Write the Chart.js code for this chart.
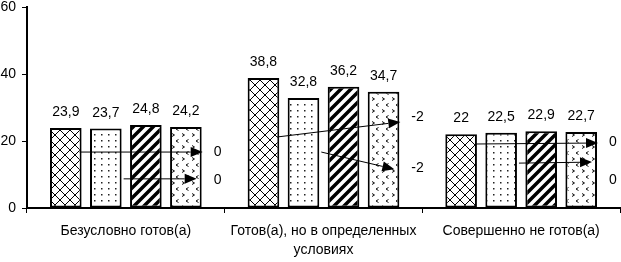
<!DOCTYPE html>
<html>
<head>
<meta charset="utf-8">
<script src="https://cdn.jsdelivr.net/npm/chart.js@4.4.0/dist/chart.umd.min.js"></script>
<style>
  html, body { margin: 0; padding: 0; background: #fff; }
  #chart { display: block; }
</style>
</head>
<body>
<canvas id="chart" width="621" height="262"></canvas>
<script>
// categories and the four series (one bar each per category)
const categories = ['Безусловно готов(а)', ['Готов(а), но в определенных', 'условиях'], 'Совершенно не готов(а)'];
const series1 = [23.9, 38.8, 22];
const series2 = [23.7, 32.8, 22.5];
const series3 = [24.8, 36.2, 22.9];
const series4 = [24.2, 34.7, 22.7];
const yTicks = [0, 20, 40, 60];

// change arrows: upper arrow (from bar 1) and lower arrow (from bar 2), values on the y scale
const upperFrom = [16.7, 21.2, 19.1];
const upperTo = [16.7, 25.7, 19.4];
const upperText = ['0', '-2', '0'];
const upperTextAt = [16.7, 27.2, 19.7];
const lowerFrom = [8.7, 16.7, 13.4];
const lowerTo = [8.7, 11.6, 13.7];
const lowerText = ['0', '-2', '0'];
const lowerTextAt = [8.4, 11.9, 8.4];

const FONT = "'Liberation Sans', Arial, sans-serif";

// fill patterns
const makeTile = (w, h, draw) => {
    const c = document.createElement('canvas');
    c.width = w;
    c.height = h;
    const g = c.getContext('2d');
    g.fillStyle = '#fff';
    g.fillRect(0, 0, w, h);
    draw(g);
    return document.getElementById('chart').getContext('2d').createPattern(c, 'repeat');
};

const crossHatch = makeTile(10, 10, (g) => {
    g.strokeStyle = '#000';
    g.lineWidth = 1;
    g.beginPath();
    g.moveTo(0, 0); g.lineTo(10, 10);
    g.moveTo(0, 10); g.lineTo(10, 0);
    g.stroke();
});

const dots = makeTile(7, 6, (g) => {
    g.fillStyle = '#222';
    g.fillRect(3, 2, 1.5, 1.5);
});

const stripes = makeTile(10, 10, (g) => {
    g.strokeStyle = '#000';
    g.lineWidth = 3.5;
    g.beginPath();
    g.moveTo(-2, 12); g.lineTo(12, -2);
    g.moveTo(-7, 7); g.lineTo(7, -7);
    g.moveTo(3, 17); g.lineTo(17, 3);
    g.stroke();
});

const chevrons = makeTile(10, 12, (g) => {
    g.strokeStyle = '#111';
    g.lineWidth = 1;
    g.beginPath();
    g.moveTo(2, 1.5); g.lineTo(4.5, 3); g.lineTo(2, 4.5);
    g.moveTo(8.5, 7.5); g.lineTo(6, 9); g.lineTo(8.5, 10.5);
    g.stroke();
});

// value labels above bars and the arrows with their numbers
const annotations = {
    id: 'annotations',
    afterDatasetsDraw(chart) {
        const ctx = chart.ctx;
        const y = chart.scales.y;
        ctx.save();
        ctx.font = '14px ' + FONT;
        ctx.fillStyle = '#000';
        ctx.textAlign = 'center';
        ctx.textBaseline = 'alphabetic';
        chart.data.datasets.forEach((ds, i) => {
            chart.getDatasetMeta(i).data.forEach((bar, j) => {
                ctx.fillText(String(ds.data[j]).replace('.', ','), bar.x, bar.y - 12);
            });
        });

        const arrow = (x0, y0, x1, y1) => {
            const a = Math.atan2(y1 - y0, x1 - x0);
            const len = 12, half = 5;
            const bx = x1 - len * Math.cos(a), by = y1 - len * Math.sin(a);
            ctx.strokeStyle = '#000';
            ctx.lineWidth = 1;
            ctx.beginPath();
            ctx.moveTo(x0, y0);
            ctx.lineTo(bx, by);
            ctx.stroke();
            ctx.beginPath();
            ctx.moveTo(x1, y1);
            ctx.lineTo(bx + half * Math.sin(a), by - half * Math.cos(a));
            ctx.lineTo(bx - half * Math.sin(a), by + half * Math.cos(a));
            ctx.closePath();
            ctx.fill();
        };

        const m1 = chart.getDatasetMeta(0).data;
        const m2 = chart.getDatasetMeta(1).data;
        const m4 = chart.getDatasetMeta(3).data;
        ctx.textAlign = 'left';
        ctx.textBaseline = 'middle';
        categories.forEach((c, j) => {
            const right4 = m4[j].x + m4[j].width / 2;
            arrow(m1[j].x + m1[j].width / 2 - 2, y.getPixelForValue(upperFrom[j]),
                  right4 + 1, y.getPixelForValue(upperTo[j]));
            arrow(m2[j].x + m2[j].width / 2 + 2, y.getPixelForValue(lowerFrom[j]),
                  right4 - 5, y.getPixelForValue(lowerTo[j]));
            ctx.fillText(upperText[j], right4 + 12, y.getPixelForValue(upperTextAt[j]));
            ctx.fillText(lowerText[j], right4 + 12, y.getPixelForValue(lowerTextAt[j]));
        });
        ctx.restore();
    }
};

const barStyle = {
    borderColor: '#000',
    borderWidth: 2,
    borderSkipped: false,
    categoryPercentage: 0.81,
    barPercentage: 0.79
};

new Chart(document.getElementById('chart'), {
    type: 'bar',
    data: {
        labels: categories,
        datasets: [
            Object.assign({ label: '1', data: series1, backgroundColor: crossHatch }, barStyle),
            Object.assign({ label: '2', data: series2, backgroundColor: dots }, barStyle),
            Object.assign({ label: '3', data: series3, backgroundColor: stripes }, barStyle),
            Object.assign({ label: '4', data: series4, backgroundColor: chevrons }, barStyle)
        ]
    },
    options: {
        responsive: false,
        animation: false,
        devicePixelRatio: 1,
        layout: { padding: { top: 7, right: 1, left: 0, bottom: 0 } },
        plugins: {
            legend: { display: false },
            tooltip: { enabled: false }
        },
        scales: {
            x: {
                afterFit: (scale) => {
                    scale.height = 54;
                    scale.paddingLeft = 0;
                    scale.paddingRight = 0;
                },
                border: { display: true, color: '#000', width: 2 },
                grid: { display: true, offset: true, drawOnChartArea: false, drawTicks: true, tickLength: 5, color: '#000', lineWidth: 1 },
                ticks: { color: '#000', padding: 9, maxRotation: 0, autoSkip: false, font: { family: FONT, size: 14, lineHeight: 1.35 } }
            },
            y: {
                min: 0,
                max: 60,
                afterFit: (scale) => {
                    scale.width = 27;
                    scale.paddingTop = 0;
                    scale.paddingBottom = 0;
                },
                afterBuildTicks: (scale) => { scale.ticks = yTicks.map((v) => ({ value: v })); },
                border: { display: true, color: '#000', width: 2 },
                grid: { display: true, drawOnChartArea: false, drawTicks: true, tickLength: 5, color: '#000', lineWidth: 1 },
                ticks: { color: '#000', padding: 6, font: { family: FONT, size: 14 } }
            }
        }
    },
    plugins: [annotations]
});
</script>
</body>
</html>
